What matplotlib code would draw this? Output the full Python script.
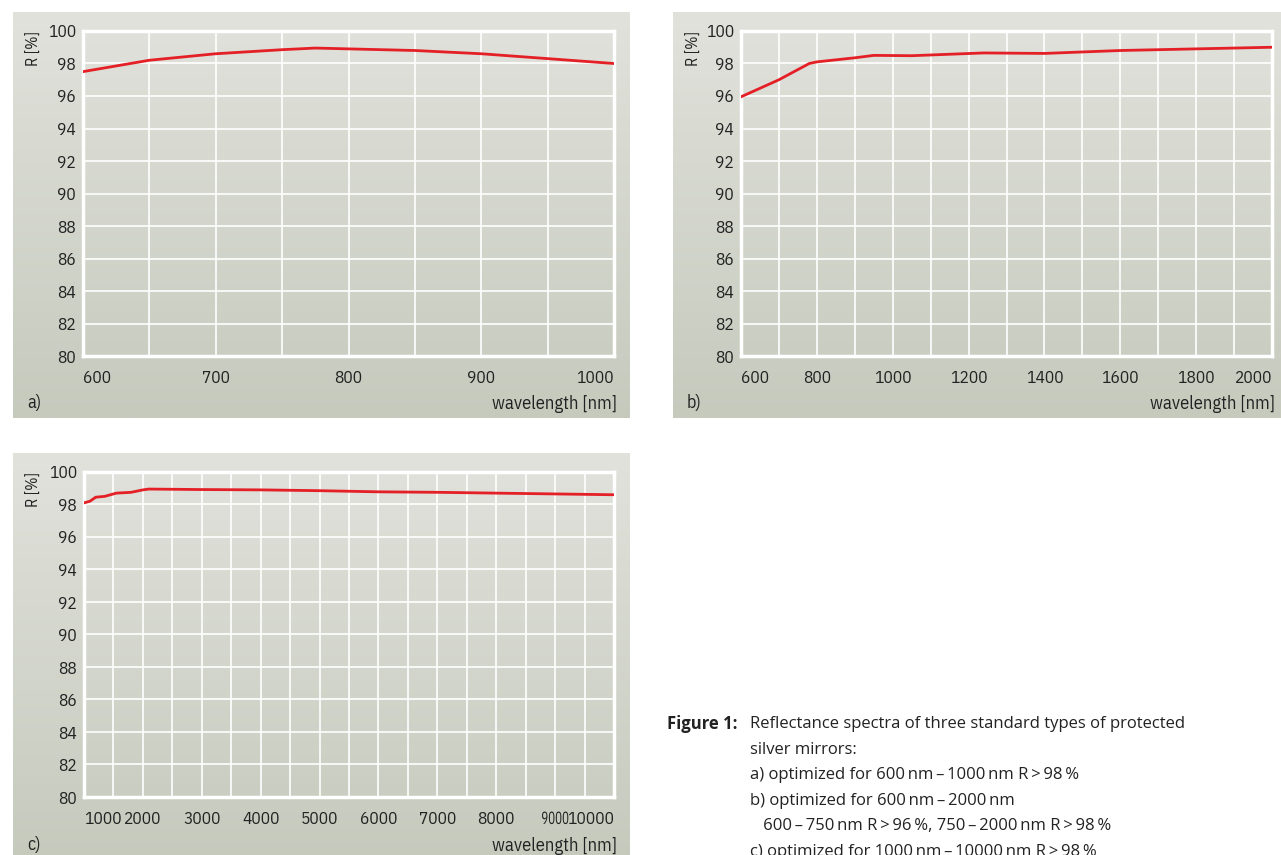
import numpy as np
import matplotlib
matplotlib.use("Agg")
import matplotlib.pyplot as plt
from matplotlib.colors import LinearSegmentedColormap
from matplotlib.patheffects import AbstractPathEffect
from matplotlib.transforms import Affine2D

# ---- data -------------------------------------------------------------------
wl_a = [600, 650, 700, 750, 775, 800, 850, 900, 950, 1000]
R_a = [97.5, 98.2, 98.6, 98.85, 98.95, 98.9, 98.8, 98.6, 98.3, 98.0]

wl_b = [600, 700, 780, 800, 900, 950, 1050, 1240, 1400, 1600, 1800, 2000]
R_b = [95.95, 97.0, 98.0, 98.1, 98.35, 98.5, 98.48, 98.65, 98.62, 98.8, 98.9, 99.0]

wl_c = [1000, 1100, 1200, 1350, 1550, 1800, 2000, 2100, 3000, 4000, 5000, 6000, 7000, 8000, 9000, 10000]
R_c = [98.1, 98.2, 98.45, 98.5, 98.7, 98.75, 98.9, 98.95, 98.92, 98.9, 98.85, 98.78, 98.75, 98.7, 98.65, 98.6]

xlim_a, xticks_a, xgrid_a = (600, 1000), [600, 700, 800, 900, 1000], 50
xlim_b, xticks_b, xgrid_b = (600, 2000), [600, 800, 1000, 1200, 1400, 1600, 1800, 2000], 100
xlim_c, xticks_c, xgrid_c = (1000, 10000), [1000, 2000, 3000, 4000, 5000, 6000, 7000, 8000, 9000, 10000], 500
yticks = list(range(80, 101, 2))

caption = [
    "Reflectance spectra of three standard types of protected",
    "silver mirrors:",
    "a) optimized for 600\u2009nm\u2009\u2013\u20091000\u2009nm R\u2009>\u200998\u2009%",
    "b) optimized for 600\u2009nm\u2009\u2013\u20092000\u2009nm",
    "   600\u2009\u2013\u2009750\u2009nm R\u2009>\u200996\u2009%, 750\u2009\u2013\u20092000\u2009nm R\u2009>\u200998\u2009%",
    "c) optimized for 1000\u2009nm\u2009\u2013\u200910000\u2009nm R\u2009>\u200998\u2009%",
]

# ---- style -------------------------------------------------------------------
W, H = 1281, 855
cond = ["IBM Plex Sans Condensed", "DejaVu Sans"]
red = "#e41f26"
ink = "#222222"
grad = LinearSegmentedColormap.from_list("bg", ["#e1e2dc", "#c6cabd"])


class Squish(AbstractPathEffect):
    # narrows a text horizontally about its own centre
    def __init__(self, sx):
        super().__init__()
        self.sx = sx

    def draw_path(self, renderer, gc, tpath, affine, rgbFace=None):
        ext = tpath.get_extents()
        cx = 0.5 * (ext.x0 + ext.x1)
        t = Affine2D().translate(-cx, 0).scale(self.sx, 1).translate(cx, 0) + affine
        renderer.draw_path(gc, tpath, t, rgbFace)


fig = plt.figure(figsize=(W / 100, H / 100), dpi=100)
fig.patch.set_facecolor("white")


def px(x0, y0, x1, y1):
    return [x0 / W, 1 - y1 / H, (x1 - x0) / W, (y1 - y0) / H]


def panel(bg_box, ax_box, wl, R, xlim, xticks, xgrid, tag):
    bg = fig.add_axes(px(*bg_box))
    bg.imshow(np.linspace(0, 1, 256).reshape(-1, 1), cmap=grad, aspect="auto",
              extent=[0, 1, 0, 1])
    bg.set_axis_off()

    ax = fig.add_axes(px(*ax_box))
    ax.set_facecolor("none")
    ax.plot(wl, R, color=red, lw=2.0, zorder=3)
    ax.set_xlim(*xlim)
    ax.set_ylim(80, 100)
    ax.set_xticks(np.arange(xlim[0], xlim[1] + 1, xgrid), minor=True)
    ax.set_xticks(xticks)
    ax.set_xticklabels([str(t) for t in xticks])
    ax.set_yticks(yticks)
    ax.grid(True, which="both", axis="x", color="white", lw=1.2)
    ax.grid(True, axis="y", color="white", lw=1.2)
    for s in ax.spines.values():
        s.set_color("white")
        s.set_linewidth(2.5)
    ax.tick_params(which="both", length=0)
    ax.tick_params(axis="y", pad=5)
    ax.tick_params(axis="x", pad=10)
    for lab in ax.get_xticklabels() + ax.get_yticklabels():
        lab.set_family(cond)
        lab.set_fontsize(12.5)
        lab.set_color(ink)
    xl = ax.get_xticklabels()
    xl[0].set_ha("left")
    xl[-1].set_ha("right")

    x0, y0, x1, y1 = bg_box
    ax0, ay0, ax1, ay1 = ax_box
    fig.text((ax1 + 3) / W, 1 - (y1 - 14) / H, "wavelength [nm]", family=cond,
             fontsize=13.3, ha="right", va="center", color=ink)
    fig.text((x0 + 14) / W, 1 - (y1 - 15) / H, tag, family=cond,
             fontsize=13, ha="left", va="center", color=ink)
    fig.text((x0 + 20) / W, 1 - (ay0 + 17) / H, "R [%]", family=cond,
             fontsize=11.5, rotation=90, ha="center", va="center", color=ink)
    return ax


panel((13, 12, 630, 418), (83, 31, 614, 356), wl_a, R_a, xlim_a, xticks_a, xgrid_a, "a)")
panel((673, 12, 1281, 418), (741, 31, 1272, 356), wl_b, R_b, xlim_b, xticks_b, xgrid_b, "b)")
ax_c = panel((13, 453, 630, 860), (84, 472, 614, 797), wl_c, R_c, xlim_c, xticks_c, xgrid_c, "c)")

# the 9000 label is set narrower in the original so it fits next to 10000
ax_c.get_xticklabels()[-2].set_path_effects([Squish(0.74)])

# caption
fig.text(667 / W, 1 - 724 / H, "Figure 1:", family="Open Sans", fontweight="bold",
         fontsize=12, va="center", ha="left", color=ink)
for i, line in enumerate(caption):
    fig.text(750 / W, 1 - (724 + 25.5 * i) / H, line, family=["Open Sans", "DejaVu Sans"],
             fontsize=12, va="center", ha="left", color=ink)

fig.savefig("out.png", dpi=100)
